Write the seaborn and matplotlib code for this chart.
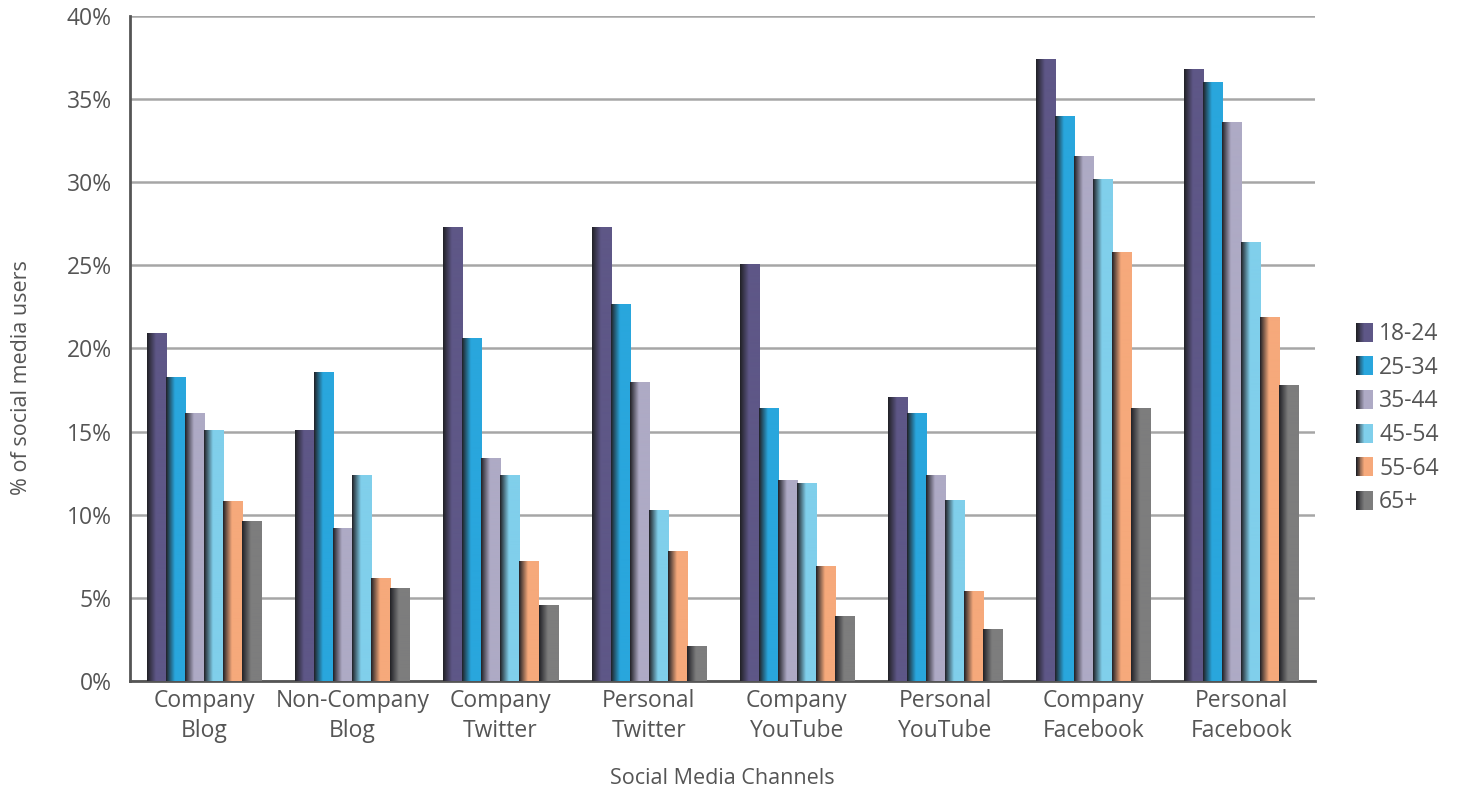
import numpy as np
import pandas as pd
import matplotlib
matplotlib.use("Agg")
import matplotlib.pyplot as plt
import seaborn as sns
from matplotlib.colors import to_rgb
from matplotlib.legend_handler import HandlerBase
from matplotlib.patches import Rectangle

# data (% of social media users)
channels = ["Company\nBlog", "Non-Company\nBlog", "Company\nTwitter", "Personal\nTwitter",
            "Company\nYouTube", "Personal\nYouTube", "Company\nFacebook", "Personal\nFacebook"]
age_groups = ["18-24", "25-34", "35-44", "45-54", "55-64", "65+"]

age_18_24 = [20.9, 15.1, 27.3, 27.3, 25.1, 17.1, 37.4, 36.8]
age_25_34 = [18.3, 18.6, 20.6, 22.7, 16.4, 16.1, 34.0, 36.0]
age_35_44 = [16.1, 9.2, 13.4, 18.0, 12.1, 12.4, 31.6, 33.6]
age_45_54 = [15.1, 12.4, 12.4, 10.3, 11.9, 10.9, 30.2, 26.4]
age_55_64 = [10.8, 6.2, 7.2, 7.8, 6.9, 5.4, 25.8, 21.9]
age_65_plus = [9.6, 5.6, 4.6, 2.1, 3.9, 3.1, 16.4, 17.8]

colors = ["#5e5787", "#29a6dd", "#aeaac5", "#80cfeb", "#f6a97b", "#7d7d7d"]

series = [age_18_24, age_25_34, age_35_44, age_45_54, age_55_64, age_65_plus]
rows = []
for grp, vals in zip(age_groups, series):
    for ch, v in zip(channels, vals):
        rows.append({"channel": ch, "age": grp, "pct": v})
df = pd.DataFrame(rows)

sns.set_style("white")
plt.rcParams["font.family"] = ["Open Sans", "DejaVu Sans"]
text_col = "#555555"

dark = np.array([0.13, 0.13, 0.15])
t = np.clip(np.linspace(0, 1, 60) / 0.45, 0, 1)[:, None]


def shade(color):
    base = np.array(to_rgb(color))
    return dark + (base - dark) * t


class GradientHandler(HandlerBase):
    # legend key with the same dark-left shading as the bars
    def create_artists(self, legend, orig_handle, xdescent, ydescent,
                       width, height, fontsize, trans):
        grad = shade(orig_handle.get_facecolor())
        n = 20
        strips = []
        for k in range(n):
            c = grad[int(k * (len(grad) - 1) / (n - 1))]
            strips.append(Rectangle((-xdescent + k * width / n, -ydescent),
                                    width / n * 1.05, height, facecolor=c,
                                    edgecolor="none", transform=trans))
        return strips


fig = plt.figure(figsize=(14.58, 7.91), dpi=100)
ax = fig.add_axes([0.0892, 0.139, 0.813, 0.841])

sns.barplot(data=df, x="channel", y="pct", hue="age", order=channels,
            hue_order=age_groups, palette=colors, width=0.77, saturation=1,
            linewidth=0, ax=ax, zorder=3)

# left-side dark shading on every bar, like the original
n_ch = len(channels)
for i, patch in enumerate(ax.patches[:n_ch * len(age_groups)]):
    grad = shade(colors[i // n_ch])
    x0, y0 = patch.get_x(), patch.get_y()
    w, h = patch.get_width(), patch.get_height()
    if h <= 0:
        continue
    im = ax.imshow(grad[None, :, :], extent=[x0, x0 + w, y0, y0 + h],
                   aspect="auto", zorder=4, interpolation="bilinear")
    im.set_clip_path(patch)

ax.set_xlim(-0.5, n_ch - 0.5)
ax.set_ylim(0, 40)
ax.set_yticks(np.arange(0, 41, 5))
ax.set_yticklabels([f"{v}%" for v in range(0, 41, 5)])
ax.yaxis.grid(True, color="#a6a6a6", linewidth=1.8, zorder=0)
ax.set_axisbelow(True)

for s in ["top", "right"]:
    ax.spines[s].set_visible(False)
for s in ["left", "bottom"]:
    ax.spines[s].set_color("#555555")
    ax.spines[s].set_linewidth(2)

ax.tick_params(axis="y", direction="out", length=9, width=1.5, color="#777777",
               labelsize=16.5, labelcolor=text_col, pad=4)
ax.tick_params(axis="x", length=0, labelsize=16.5, labelcolor=text_col, pad=6)
for lab in ax.get_xticklabels():
    lab.set_linespacing(1.3)

ax.set_xlabel("Social Media Channels", fontsize=15.5, color=text_col, labelpad=18)
ax.set_ylabel("% of social media users", fontsize=15.5, color=text_col)
ax.yaxis.set_label_coords(-0.083, 0.456)

handles, labels = ax.get_legend_handles_labels()
leg = ax.legend(handles, labels, loc="center left", bbox_to_anchor=(1.017, 0.395),
                frameon=False, fontsize=16.5, handlelength=0.75, handleheight=0.9,
                handletextpad=0.25, labelspacing=0.42, labelcolor=text_col,
                handler_map={h: GradientHandler() for h in handles})

fig.savefig("out.png", dpi=100, facecolor="white")
